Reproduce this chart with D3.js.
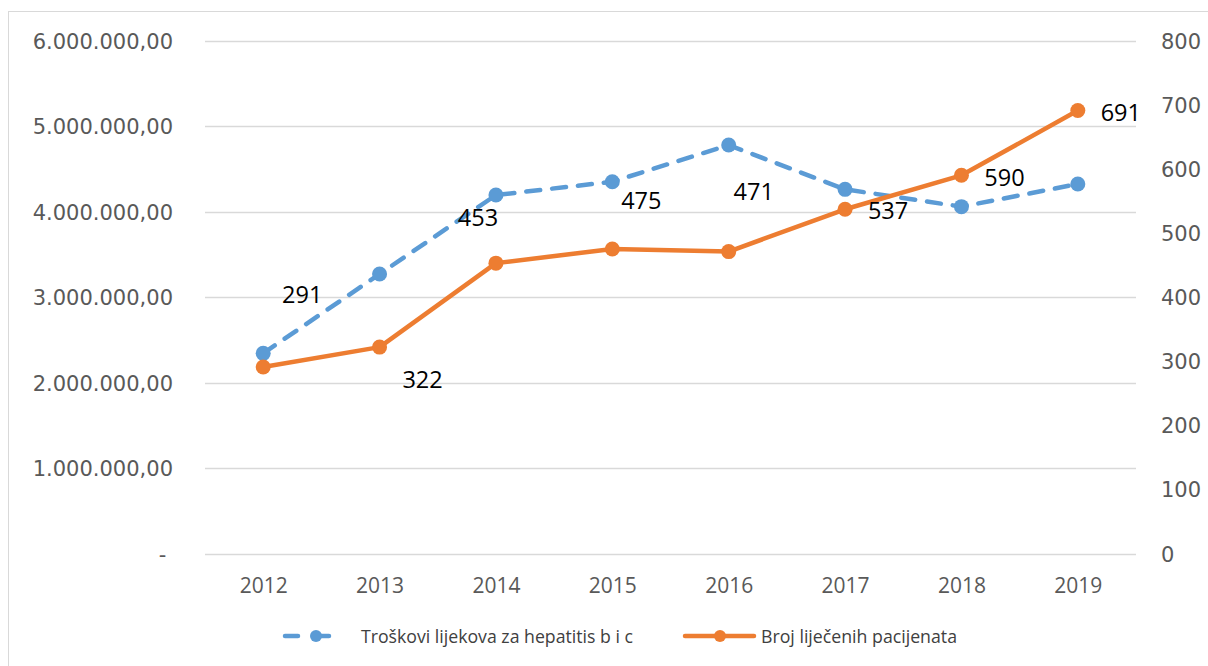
<!DOCTYPE html>
<html>
<head>
<meta charset="utf-8">
<script src="https://cdn.jsdelivr.net/npm/d3@7"></script>
<style>
  html, body { margin: 0; padding: 0; background: #fff; }
  svg { display: block; }
</style>
</head>
<body>
<svg id="chart" width="1208" height="666"></svg>
<script>
// ---- data ----
const years = ["2012", "2013", "2014", "2015", "2016", "2017", "2018", "2019"];
const costs = [2342000, 3270000, 4194000, 4350000, 4779000, 4261000, 4058000, 4323000];
const patients = [291, 322, 453, 475, 471, 537, 590, 691];
const leftTicks = [0, 1000000, 2000000, 3000000, 4000000, 5000000, 6000000];
const rightTicks = [0, 100, 200, 300, 400, 500, 600, 700, 800];
const seriesNames = ["Troškovi lijekova za hepatitis b i c", "Broj liječenih pacijenata"];
// manual label placement (layout, offsets from orange points)
const labelDx = [39, 43, -18, 29, 25, 43, 43, 43];
const labelDy = [-72, 32, -46, -48, -60, 1, 2, 2];

const blue = "#5B9BD5", orange = "#ED7D31";
const svg = d3.select("#chart");

// border
svg.append("rect").attr("x", 8.5).attr("y", 11.5).attr("width", 1220).attr("height", 680)
  .attr("fill", "none").attr("stroke", "#D9D9D9").attr("stroke-width", 1);

const x = d3.scalePoint().domain(years).range([205, 1136]).padding(0.5);
const yL = d3.scaleLinear().domain([0, 6000000]).range([553.5, 40.7]);
const yR = d3.scaleLinear().domain([0, 800]).range([553.5, 40.7]);

const loc = d3.formatLocale({ decimal: ",", thousands: ".", grouping: [3], currency: ["", ""] });
const fmtL = v => v === 0 ? "-\u00A0" : loc.format(",.2f")(v);

// gridlines
svg.append("g").selectAll("line").data(leftTicks).join("line")
  .attr("x1", 205).attr("x2", 1136)
  .attr("y1", d => Math.round(yL(d)) + 0.5).attr("y2", d => Math.round(yL(d)) + 0.5)
  .attr("stroke", "#D9D9D9").attr("stroke-width", 1.5);

// left axis
const axL = svg.append("g").attr("transform", "translate(173,0)")
  .call(d3.axisLeft(yL).tickValues(leftTicks).tickFormat(fmtL).tickSize(0).tickPadding(0));
axL.select(".domain").remove();
axL.selectAll("text").attr("font-family", "DejaVu Sans").attr("font-size", 21)
  .attr("fill", "#595959").attr("dy", "0.36em");

// right axis
const axR = svg.append("g").attr("transform", "translate(1161,0)")
  .call(d3.axisRight(yR).tickValues(rightTicks).tickSize(0).tickPadding(0));
axR.select(".domain").remove();
axR.selectAll("text").attr("font-family", "DejaVu Sans").attr("font-size", 21)
  .attr("fill", "#595959").attr("dy", "0.36em");

// bottom axis
const axB = svg.append("g").attr("transform", "translate(0,593)")
  .call(d3.axisBottom(x).tickSize(0).tickPadding(0));
axB.select(".domain").remove();
axB.selectAll("text").attr("font-family", "Open Sans").attr("font-size", 21)
  .attr("fill", "#595959").attr("dy", "0");

// blue dashed series
const lineL = d3.line().x((d, i) => x(years[i])).y(d => yL(d));
svg.append("path").datum(costs).attr("d", lineL).attr("fill", "none")
  .attr("stroke", blue).attr("stroke-width", 4.5).attr("stroke-dasharray", "14,12")
  .attr("stroke-linecap", "round");
svg.append("g").selectAll("circle").data(costs).join("circle")
  .attr("cx", (d, i) => x(years[i])).attr("cy", d => yL(d)).attr("r", 7.5).attr("fill", blue);

// orange solid series
const lineR = d3.line().x((d, i) => x(years[i])).y(d => yR(d));
svg.append("path").datum(patients).attr("d", lineR).attr("fill", "none")
  .attr("stroke", orange).attr("stroke-width", 4.5).attr("stroke-linejoin", "round");
svg.append("g").selectAll("circle").data(patients).join("circle")
  .attr("cx", (d, i) => x(years[i])).attr("cy", d => yR(d)).attr("r", 7.5).attr("fill", orange);

// data labels
svg.append("g").selectAll("text").data(patients).join("text")
  .attr("x", (d, i) => x(years[i]) + labelDx[i])
  .attr("y", (d, i) => yR(d) + labelDy[i])
  .attr("dy", "0.36em").attr("text-anchor", "middle")
  .attr("font-family", "Open Sans").attr("font-size", 23.5).attr("fill", "#000")
  .text(d => d);

// legend
const lg = svg.append("g");
const ly = 636;
// blue entry
lg.append("line").attr("x1", 285).attr("x2", 347).attr("y1", ly).attr("y2", ly)
  .attr("stroke", blue).attr("stroke-width", 4.5).attr("stroke-dasharray", "13,18")
  .attr("stroke-linecap", "round");
lg.append("circle").attr("cx", 316).attr("cy", ly).attr("r", 6).attr("fill", blue);
lg.append("text").attr("x", 361).attr("y", ly).attr("dy", "0.36em")
  .attr("font-family", "Open Sans").attr("font-size", 18.5).attr("fill", "#404040")
  .attr("textLength", 272).attr("lengthAdjust", "spacingAndGlyphs")
  .text(seriesNames[0]);
// orange entry
lg.append("line").attr("x1", 685).attr("x2", 754).attr("y1", ly).attr("y2", ly)
  .attr("stroke", orange).attr("stroke-width", 4.5).attr("stroke-linecap", "round");
lg.append("circle").attr("cx", 720).attr("cy", ly).attr("r", 6).attr("fill", orange);
lg.append("text").attr("x", 761).attr("y", ly).attr("dy", "0.36em")
  .attr("font-family", "Open Sans").attr("font-size", 18.5).attr("fill", "#404040")
  .attr("textLength", 196).attr("lengthAdjust", "spacingAndGlyphs")
  .text(seriesNames[1]);
</script>
</body>
</html>
